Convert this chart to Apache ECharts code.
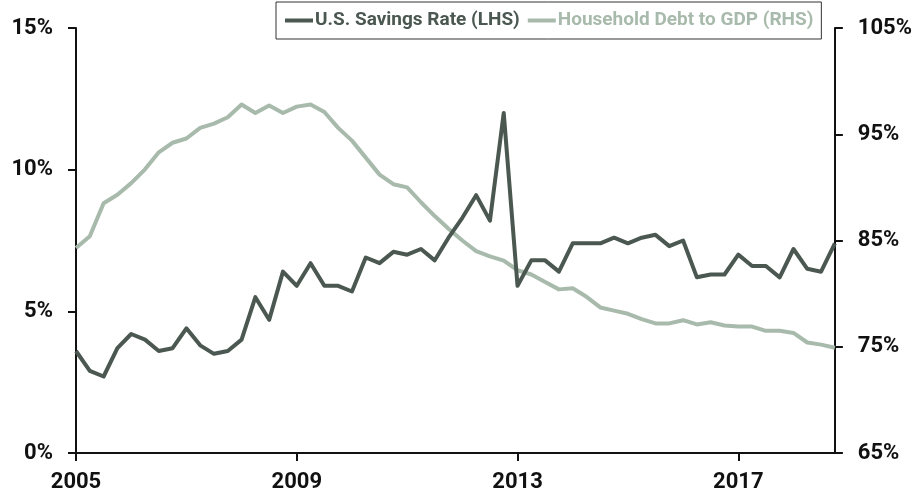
<!DOCTYPE html>
<html>
<head>
<meta charset="utf-8">
<title>U.S. Savings Rate and Household Debt to GDP</title>
<script src="https://cdn.jsdelivr.net/npm/echarts@6/dist/echarts.min.js"></script>
<style>
  html, body { margin: 0; padding: 0; background: #fff; }
  #chart { width: 915px; height: 496px; }
</style>
</head>
<body>
<div id="chart"></div>
<script>
// Quarterly observations, 2005 Q1 through 2018 Q4
const years = [2005, 2006, 2007, 2008, 2009, 2010, 2011, 2012, 2013, 2014, 2015, 2016, 2017, 2018];
const quarters = [];
years.forEach(y => { for (let q = 1; q <= 4; q++) quarters.push(y + ' Q' + q); });

// Personal savings rate, % of disposable income (left axis)
const savingsRate = [
  3.6, 2.9, 2.7, 3.7, 4.2, 4.0, 3.6, 3.7, 4.4, 3.8,
  3.5, 3.6, 4.0, 5.5, 4.7, 6.4, 5.9, 6.7, 5.9, 5.9,
  5.7, 6.9, 6.7, 7.1, 7.0, 7.2, 6.8, 7.6, 8.3, 9.1,
  8.2, 12.0, 5.9, 6.8, 6.8, 6.4, 7.4, 7.4, 7.4, 7.6,
  7.4, 7.6, 7.7, 7.3, 7.5, 6.2, 6.3, 6.3, 7.0, 6.6,
  6.6, 6.2, 7.2, 6.5, 6.4, 7.4
];

// Household debt as % of GDP (right axis)
const householdDebt = [
  84.3, 85.4, 88.5, 89.3, 90.4, 91.7, 93.3, 94.2, 94.6, 95.6,
  96.0, 96.6, 97.8, 97.0, 97.7, 97.0, 97.6, 97.8, 97.1, 95.6,
  94.4, 92.8, 91.2, 90.3, 90.0, 88.6, 87.3, 86.1, 85.0, 84.0,
  83.5, 83.1, 82.2, 81.8, 81.1, 80.4, 80.5, 79.7, 78.7, 78.4,
  78.1, 77.6, 77.2, 77.2, 77.5, 77.1, 77.3, 77.0, 76.9, 76.9,
  76.5, 76.5, 76.3, 75.4, 75.2, 74.9
];

// Axis tick values
const leftTicks = [0, 5, 10, 15];
const rightTicks = [65, 75, 85, 95, 105];

const seriesNames = ['U.S. Savings Rate (LHS)', 'Household Debt to GDP (RHS)'];
const darkColor = '#4b5751';
const lightColor = '#a8baab';
const fontFamily = 'Roboto, "Liberation Sans", sans-serif';

const axisLine = { show: true, lineStyle: { color: '#111', width: 2 } };
const axisTick = { show: true, inside: false, length: 8, lineStyle: { color: '#111', width: 2 } };
const tickFont = { color: '#111', fontSize: 22, fontWeight: 'bold', fontFamily: fontFamily };

const chart = echarts.init(document.getElementById('chart'), null, { renderer: 'canvas' });

chart.setOption({
  animation: false,
  backgroundColor: '#fff',
  grid: { left: 76, right: 77, top: 28, bottom: 43, containLabel: false },
  legend: {
    left: 276,
    top: 2,
    width: 620,
    orient: 'horizontal',
    padding: [9, 8, 9, 9],
    itemGap: 8,
    itemWidth: 28,
    itemHeight: 4,
    borderColor: '#333',
    borderWidth: 1,
    icon: 'rect',
    textStyle: { fontSize: 19, fontWeight: 'bold', fontFamily: fontFamily, padding: [0, 0, 0, -3] },
    data: [
      { name: seriesNames[0], textStyle: { color: darkColor } },
      { name: seriesNames[1], textStyle: { color: lightColor } }
    ]
  },
  xAxis: {
    type: 'category',
    data: quarters,
    boundaryGap: false,
    axisLine: axisLine,
    axisTick: { ...axisTick, interval: 15 },
    axisLabel: {
      ...tickFont,
      interval: 15,
      margin: 18,
      formatter: v => v.slice(0, 4)
    },
    splitLine: { show: false }
  },
  yAxis: [
    {
      type: 'value',
      position: 'left',
      min: leftTicks[0],
      max: leftTicks[leftTicks.length - 1],
      interval: leftTicks[1] - leftTicks[0],
      axisLine: axisLine,
      axisTick: axisTick,
      axisLabel: { ...tickFont, margin: 23, formatter: '{value}%' },
      splitLine: { show: false }
    },
    {
      type: 'value',
      position: 'right',
      min: rightTicks[0],
      max: rightTicks[rightTicks.length - 1],
      interval: rightTicks[1] - rightTicks[0],
      axisLine: axisLine,
      axisTick: axisTick,
      axisLabel: { ...tickFont, margin: 23, formatter: '{value}%' },
      splitLine: { show: false }
    }
  ],
  series: [
    {
      name: seriesNames[1],
      type: 'line',
      yAxisIndex: 1,
      data: householdDebt,
      showSymbol: false,
      symbol: 'none',
      z: 2,
      lineStyle: { color: lightColor, width: 4, join: 'round' },
      itemStyle: { color: lightColor }
    },
    {
      name: seriesNames[0],
      type: 'line',
      yAxisIndex: 0,
      data: savingsRate,
      showSymbol: false,
      symbol: 'none',
      z: 3,
      lineStyle: { color: darkColor, width: 4, join: 'round' },
      itemStyle: { color: darkColor }
    }
  ]
});
</script>
</body>
</html>
